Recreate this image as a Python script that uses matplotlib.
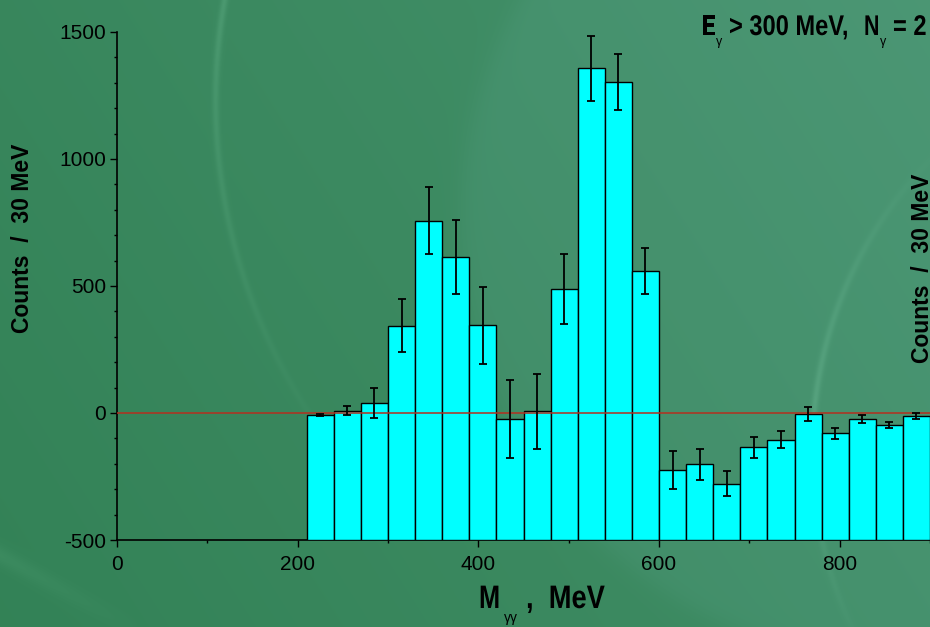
import numpy as np
import matplotlib
matplotlib.use("Agg")
import matplotlib.pyplot as plt
from matplotlib.ticker import MultipleLocator
from matplotlib.textpath import TextPath
from matplotlib.patches import PathPatch
from matplotlib.font_manager import FontProperties
from matplotlib.transforms import Affine2D

# two-photon invariant mass, 30 MeV bins starting at 210 MeV
bin_lo = list(range(210, 900, 30))
counts = [-7, 9, 39, 344, 757, 613, 345, -25, 7, 488, 1357, 1302, 559,
          -224, -202, -278, -135, -105, -3, -80, -25, -47, -13]
errors = [4, 17, 59, 104, 131, 146, 153, 154, 148, 138, 127, 110, 92,
          74, 61, 49, 41, 33, 28, 21, 16, 12, 12]
x_ticks = [0, 200, 400, 600, 800]
y_ticks = [-500, 0, 500, 1000, 1500]

W, H = 930, 627
plt.rcParams["font.family"] = ["Liberation Sans", "DejaVu Sans"]
plt.rcParams["axes.unicode_minus"] = False

fig = plt.figure(figsize=(W / 100, H / 100), dpi=100)

# green slide background: soft gradient, a lighter disc and pale arcs
yy, xx = np.mgrid[0:H, 0:W].astype(float)
base = np.array([0.20, 0.51, 0.34])
light = np.array([0.27, 0.57, 0.42])
t = np.clip(xx / W * 0.7 + (1 - yy / H) * 0.3, 0, 1)
img = base[None, None, :] * (1 - t[..., None]) + light[None, None, :] * t[..., None]
d_disc = np.hypot(xx - 900, yy - 220) - 440
disc = 1 / (1 + np.exp(d_disc / 6))
img += disc[..., None] * np.array([0.025, 0.02, 0.035])
arc1 = np.abs(np.hypot(xx - 787, yy - 100) - 572)
a1 = np.exp(-(arc1 / 3.5) ** 2) * np.clip(1 - yy / 500, 0, 1)
arc2 = np.abs(np.hypot(xx - 1229, yy - 450) - 418)
a2 = np.exp(-(arc2 / 3.5) ** 2) * np.clip(1 - np.abs(yy - 400) / 260, 0, 1)
streak = np.abs((yy - 555) - 0.55 * xx)
a3 = np.exp(-(streak / 10.0) ** 2) * np.clip(1 - xx / 140, 0, 1)
img += (a1 * 0.06 + a2 * 0.06 + a3 * 0.03)[..., None]
img = np.clip(img, 0, 1)

bg = fig.add_axes([0, 0, 1, 1], zorder=-1)
bg.imshow(img, aspect="auto", interpolation="bilinear")
bg.axis("off")

ax = fig.add_axes([117 / W, (H - 540) / H, (W - 117) / W, (540 - 32) / H])
ax.set_facecolor("none")

lefts = np.array(bin_lo)
vals = np.array(counts)
ax.bar(lefts, vals + 500, bottom=-500, width=30, align="edge",
       color="#00ffff", edgecolor="black", linewidth=1.0, zorder=3)
ax.errorbar(lefts + 15, vals, yerr=errors, fmt="none", ecolor="black",
            elinewidth=1.3, capsize=3, capthick=1.3, zorder=5)
ax.axhline(0, color="#b3301f", linewidth=1.3, alpha=0.85, zorder=4)

ax.set_xlim(0, 900)
ax.set_ylim(-500, 1500)
ax.set_xticks(x_ticks)
ax.set_yticks(y_ticks)
ax.xaxis.set_minor_locator(MultipleLocator(100))
ax.yaxis.set_minor_locator(MultipleLocator(100))
ax.tick_params(which="major", direction="out", length=5, width=1,
               labelsize=15, colors="black")
ax.tick_params(axis="x", which="major", pad=6)
ax.tick_params(axis="y", which="major", pad=3)
ax.tick_params(which="minor", direction="out", length=2.5, width=1)
for s in ("top", "right"):
    ax.spines[s].set_visible(False)
for s in ("left", "bottom"):
    ax.spines[s].set_linewidth(1.2)


def px(x, y):
    return x / W, 1 - y / H


bold = FontProperties(family="Liberation Sans", weight="bold")


def squeezed(x, y, s, em, sx=0.8):
    # bold text drawn as a path, squeezed horizontally (pixel coordinates)
    tp = TextPath((0, 0), s, size=em, prop=bold)
    tr = Affine2D().scale(sx, 1).translate(x, H - y)
    fig.add_artist(PathPatch(tp, transform=tr, facecolor="black",
                             edgecolor="none"))


# axis titles
fig.text(*px(11, 238), "Counts  /  30 MeV", rotation=90, ha="left",
         va="center", fontsize=16.5, fontweight="bold")
fig.text(*px(911, 268), "Counts  /  30 MeV", rotation=90, ha="left",
         va="center", fontsize=16.5, fontweight="bold")

squeezed(479, 608, "M", 32.5, 0.78)
fig.text(*px(504, 622), "\u03b3\u03b3", fontsize=10, va="baseline")
squeezed(526, 608, ",  MeV", 32.5, 0.84)

# selection cuts
squeezed(702, 35, "E", 28.5, 0.75)
fig.text(*px(716, 45), "\u03b3", fontsize=9, va="baseline")
squeezed(729, 35, "> 300 MeV,", 28.5, 0.83)
squeezed(864, 35, "N", 28.5, 0.75)
fig.text(*px(880, 45), "\u03b3", fontsize=9, va="baseline")
squeezed(893, 35, "= 2", 28.5, 0.83)

fig.savefig("out.png", dpi=100)
